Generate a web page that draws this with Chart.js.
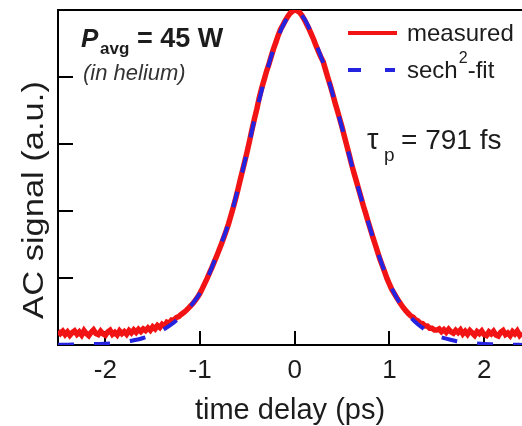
<!DOCTYPE html>
<html>
<head>
<meta charset="utf-8">
<script src="https://cdn.jsdelivr.net/npm/chart.js@4.4.1/dist/chart.umd.min.js"></script>
<style>
  html, body { margin: 0; padding: 0; background: #fff; }
  #wrap { width: 522px; height: 426px; position: relative; }
</style>
</head>
<body>
<div id="wrap"><canvas id="acChart"></canvas></div>
<script>
// measured autocorrelation trace, time delay in ps
const measuredDelay = [
  -2.5, -2.475, -2.45, -2.425, -2.4, -2.375, -2.35, -2.325, -2.3, -2.275,
  -2.25, -2.225, -2.2, -2.175, -2.15, -2.125, -2.1, -2.075, -2.05, -2.025,
  -2.0, -1.975, -1.95, -1.925, -1.9, -1.875, -1.85, -1.825, -1.8, -1.775,
  -1.75, -1.725, -1.7, -1.675, -1.65, -1.625, -1.6, -1.575, -1.55, -1.525,
  -1.5, -1.475, -1.45, -1.425, -1.4, -1.375, -1.35, -1.325, -1.3, -1.275,
  -1.25, -1.225, -1.2, -1.175, -1.15, -1.125, -1.1, -1.075, -1.05, -1.025,
  -1.0, -0.975, -0.95, -0.925, -0.9, -0.875, -0.85, -0.825, -0.8, -0.775,
  -0.75, -0.725, -0.7, -0.675, -0.65, -0.625, -0.6, -0.575, -0.55, -0.525,
  -0.5, -0.475, -0.45, -0.425, -0.4, -0.375, -0.35, -0.325, -0.3, -0.275,
  -0.25, -0.225, -0.2, -0.175, -0.15, -0.125, -0.1, -0.075, -0.05, -0.025,
  0.0, 0.025, 0.05, 0.075, 0.1, 0.125, 0.15, 0.175, 0.2, 0.225,
  0.25, 0.275, 0.3, 0.325, 0.35, 0.375, 0.4, 0.425, 0.45, 0.475,
  0.5, 0.525, 0.55, 0.575, 0.6, 0.625, 0.65, 0.675, 0.7, 0.725,
  0.75, 0.775, 0.8, 0.825, 0.85, 0.875, 0.9, 0.925, 0.95, 0.975,
  1.0, 1.025, 1.05, 1.075, 1.1, 1.125, 1.15, 1.175, 1.2, 1.225,
  1.25, 1.275, 1.3, 1.325, 1.35, 1.375, 1.4, 1.425, 1.45, 1.475,
  1.5, 1.525, 1.55, 1.575, 1.6, 1.625, 1.65, 1.675, 1.7, 1.725,
  1.75, 1.775, 1.8, 1.825, 1.85, 1.875, 1.9, 1.925, 1.95, 1.975,
  2.0, 2.025, 2.05, 2.075, 2.1, 2.125, 2.15, 2.175, 2.2, 2.225,
  2.25, 2.275, 2.3, 2.325, 2.35, 2.375, 2.4
];
const measuredSignal = [
  0.042, 0.034, 0.041, 0.031, 0.039, 0.029, 0.037, 0.042, 0.032, 0.039,
  0.030, 0.043, 0.034, 0.028, 0.038, 0.045, 0.034, 0.031, 0.041, 0.033,
  0.029, 0.039, 0.044, 0.032, 0.038, 0.030, 0.042, 0.034, 0.040, 0.032,
  0.043, 0.036, 0.045, 0.038, 0.047, 0.040, 0.048, 0.043, 0.051, 0.044,
  0.054, 0.048, 0.058, 0.052, 0.062, 0.057, 0.068, 0.065, 0.075, 0.075,
  0.082, 0.085, 0.091, 0.096, 0.102, 0.109, 0.117, 0.124, 0.133, 0.143,
  0.155, 0.169, 0.184, 0.199, 0.215, 0.231, 0.248, 0.265, 0.283, 0.301,
  0.320, 0.340, 0.361, 0.385, 0.410, 0.436, 0.464, 0.494, 0.522, 0.551,
  0.580, 0.612, 0.645, 0.676, 0.705, 0.738, 0.766, 0.790, 0.815, 0.836,
  0.860, 0.883, 0.903, 0.924, 0.942, 0.955, 0.968, 0.980, 0.990, 0.996,
  1.000, 0.998, 0.993, 0.984, 0.972, 0.958, 0.944, 0.928, 0.912, 0.893,
  0.876, 0.860, 0.846, 0.822, 0.798, 0.775, 0.750, 0.724, 0.700, 0.675,
  0.650, 0.622, 0.595, 0.568, 0.540, 0.514, 0.490, 0.465, 0.440, 0.415,
  0.392, 0.368, 0.345, 0.322, 0.300, 0.278, 0.256, 0.237, 0.218, 0.198,
  0.182, 0.166, 0.154, 0.142, 0.131, 0.120, 0.110, 0.102, 0.094, 0.087,
  0.083, 0.075, 0.072, 0.065, 0.064, 0.057, 0.057, 0.050, 0.050, 0.045,
  0.045, 0.048, 0.040, 0.046, 0.038, 0.047, 0.039, 0.035, 0.044, 0.037,
  0.045, 0.033, 0.041, 0.032, 0.043, 0.036, 0.029, 0.040, 0.034, 0.042,
  0.031, 0.028, 0.039, 0.033, 0.041, 0.030, 0.027, 0.038, 0.043, 0.031,
  0.036, 0.028, 0.040, 0.033, 0.042, 0.029, 0.037
];

// sech^2 fit curve
const fitDelay = [
  -2.5, -2.4, -2.3, -2.2, -2.1, -2.0, -1.9, -1.8, -1.7, -1.6,
  -1.5, -1.4, -1.3, -1.2, -1.1, -1.0, -0.9, -0.8, -0.7, -0.6,
  -0.5, -0.4, -0.3, -0.2, -0.1, 0.0, 0.1, 0.2, 0.3, 0.4,
  0.5, 0.6, 0.7, 0.8, 0.9, 1.0, 1.1, 1.2, 1.3, 1.4,
  1.5, 1.6, 1.7, 1.8, 1.9, 2.0, 2.1, 2.2, 2.3, 2.4
];
const fitSignal = [
  0.001, 0.001, 0.002, 0.002, 0.003, 0.004, 0.006, 0.009, 0.014, 0.021,
  0.031, 0.044, 0.062, 0.086, 0.116, 0.155, 0.214, 0.287, 0.362, 0.466,
  0.580, 0.703, 0.812, 0.902, 0.966, 0.996, 0.974, 0.914, 0.843, 0.750,
  0.648, 0.540, 0.440, 0.344, 0.258, 0.184, 0.130, 0.090, 0.062, 0.042,
  0.028, 0.019, 0.012, 0.008, 0.005, 0.003, 0.002, 0.001, 0.001, 0.000
];

const xTicks = [-2, -1, 0, 1, 2];
const yTicks = [0.2, 0.4, 0.6, 0.8];

const RED = '#f21414';
const BLUE = '#2323e0';
const INK = '#1c1c1c';
const FONT = 'Arial, "Liberation Sans", sans-serif';

// inward tick marks + closed top edge, drawn under the traces
const frame = {
  id: 'frame',
  beforeDatasetsDraw(chart) {
    const { ctx, chartArea: { top, left, right, bottom }, scales: { x, y } } = chart;
    ctx.save();
    ctx.strokeStyle = '#000';
    ctx.lineWidth = 2;
    ctx.beginPath();
    ctx.moveTo(left - 1, top);
    ctx.lineTo(right, top);
    xTicks.forEach(v => {
      const px = Math.round(x.getPixelForValue(v));
      ctx.moveTo(px, bottom);
      ctx.lineTo(px, bottom - 14);
    });
    yTicks.forEach(v => {
      const py = Math.round(y.getPixelForValue(v));
      ctx.moveTo(left, py);
      ctx.lineTo(left + 15, py);
    });
    ctx.stroke();
    ctx.restore();
  }
};

// labels, legend and y title
const notes = {
  id: 'notes',
  afterDraw(chart) {
    const { ctx } = chart;
    ctx.save();
    ctx.fillStyle = INK;
    ctx.textBaseline = 'alphabetic';
    ctx.textAlign = 'left';

    // P_avg = 45 W
    ctx.font = 'italic bold 26px ' + FONT;
    ctx.fillText('P', 81, 47);
    ctx.font = 'bold 17px ' + FONT;
    ctx.fillText('avg', 100, 54);
    ctx.font = 'bold 27px ' + FONT;
    ctx.fillText('= 45 W', 137, 47);
    ctx.font = 'italic 22px ' + FONT;
    ctx.fillStyle = '#333';
    ctx.fillText('(in helium)', 83, 80);

    // legend
    ctx.fillStyle = INK;
    ctx.lineWidth = 4;
    ctx.strokeStyle = RED;
    ctx.beginPath();
    ctx.moveTo(348, 33);
    ctx.lineTo(397, 33);
    ctx.stroke();
    ctx.strokeStyle = BLUE;
    ctx.setLineDash([13, 24]);
    ctx.beginPath();
    ctx.moveTo(348, 70);
    ctx.lineTo(395, 70);
    ctx.stroke();
    ctx.setLineDash([]);
    ctx.font = '24px ' + FONT;
    ctx.fillText('measured', 407, 41);
    ctx.fillText('sech', 407, 78);
    const w = ctx.measureText('sech').width;
    ctx.font = '16px ' + FONT;
    ctx.fillText('2', 407 + w + 1, 63);
    ctx.font = '24px ' + FONT;
    ctx.fillText('-fit', 407 + w + 10, 78);

    // tau_p
    ctx.font = '29px ' + FONT;
    ctx.fillText('\u03C4', 367, 149);
    ctx.font = '19px ' + FONT;
    ctx.fillText('p', 384, 161);
    ctx.font = '28px ' + FONT;
    ctx.fillText('= 791 fs', 401, 149);

    // y axis title
    ctx.translate(43, 200);
    ctx.rotate(-Math.PI / 2);
    ctx.scale(1.15, 1);
    ctx.textAlign = 'center';
    ctx.font = '30px ' + FONT;
    ctx.fillText('AC signal (a.u.)', 0, 0);
    ctx.restore();
  }
};

const ctx = document.getElementById('acChart').getContext('2d');
new Chart(ctx, {
  type: 'line',
  data: {
    datasets: [
      {
        label: 'sech\u00B2-fit',
        data: fitDelay.map((t, i) => ({ x: t, y: fitSignal[i] })),
        borderColor: BLUE,
        borderWidth: 4,
        borderDash: [16, 20],
        cubicInterpolationMode: 'monotone',
        pointRadius: 0,
        fill: false
      },
      {
        label: 'measured',
        data: measuredDelay.map((t, i) => ({ x: t, y: measuredSignal[i] })),
        borderColor: RED,
        borderWidth: 5.5,
        tension: 0,
        pointRadius: 0,
        fill: false
      }
    ]
  },
  options: {
    responsive: true,
    maintainAspectRatio: false,
    animation: false,
    layout: { padding: { top: 10, right: 0, left: 0, bottom: 0 } },
    plugins: {
      legend: { display: false },
      tooltip: { enabled: false }
    },
    scales: {
      x: {
        type: 'linear',
        min: -2.5,
        max: 2.4,
        afterBuildTicks: s => { s.ticks = xTicks.map(v => ({ value: v })); },
        afterFit: s => { s.height = 81; },
        grid: { display: false, drawTicks: false },
        border: { display: true, color: '#000', width: 2 },
        ticks: {
          color: INK,
          padding: 10,
          maxRotation: 0,
          font: { family: FONT, size: 26 },
          callback: v => String(v)
        },
        title: {
          display: true,
          text: 'time delay (ps)',
          color: INK,
          font: { family: FONT, size: 29, lineHeight: 1.05 },
          padding: { top: 6, bottom: 0 }
        }
      },
      y: {
        min: 0,
        max: 1,
        afterFit: s => { s.width = 58; },
        grid: { display: false, drawTicks: false },
        border: { display: true, color: '#000', width: 2 },
        ticks: { display: false }
      }
    }
  },
  plugins: [frame, notes]
});
</script>
</body>
</html>
